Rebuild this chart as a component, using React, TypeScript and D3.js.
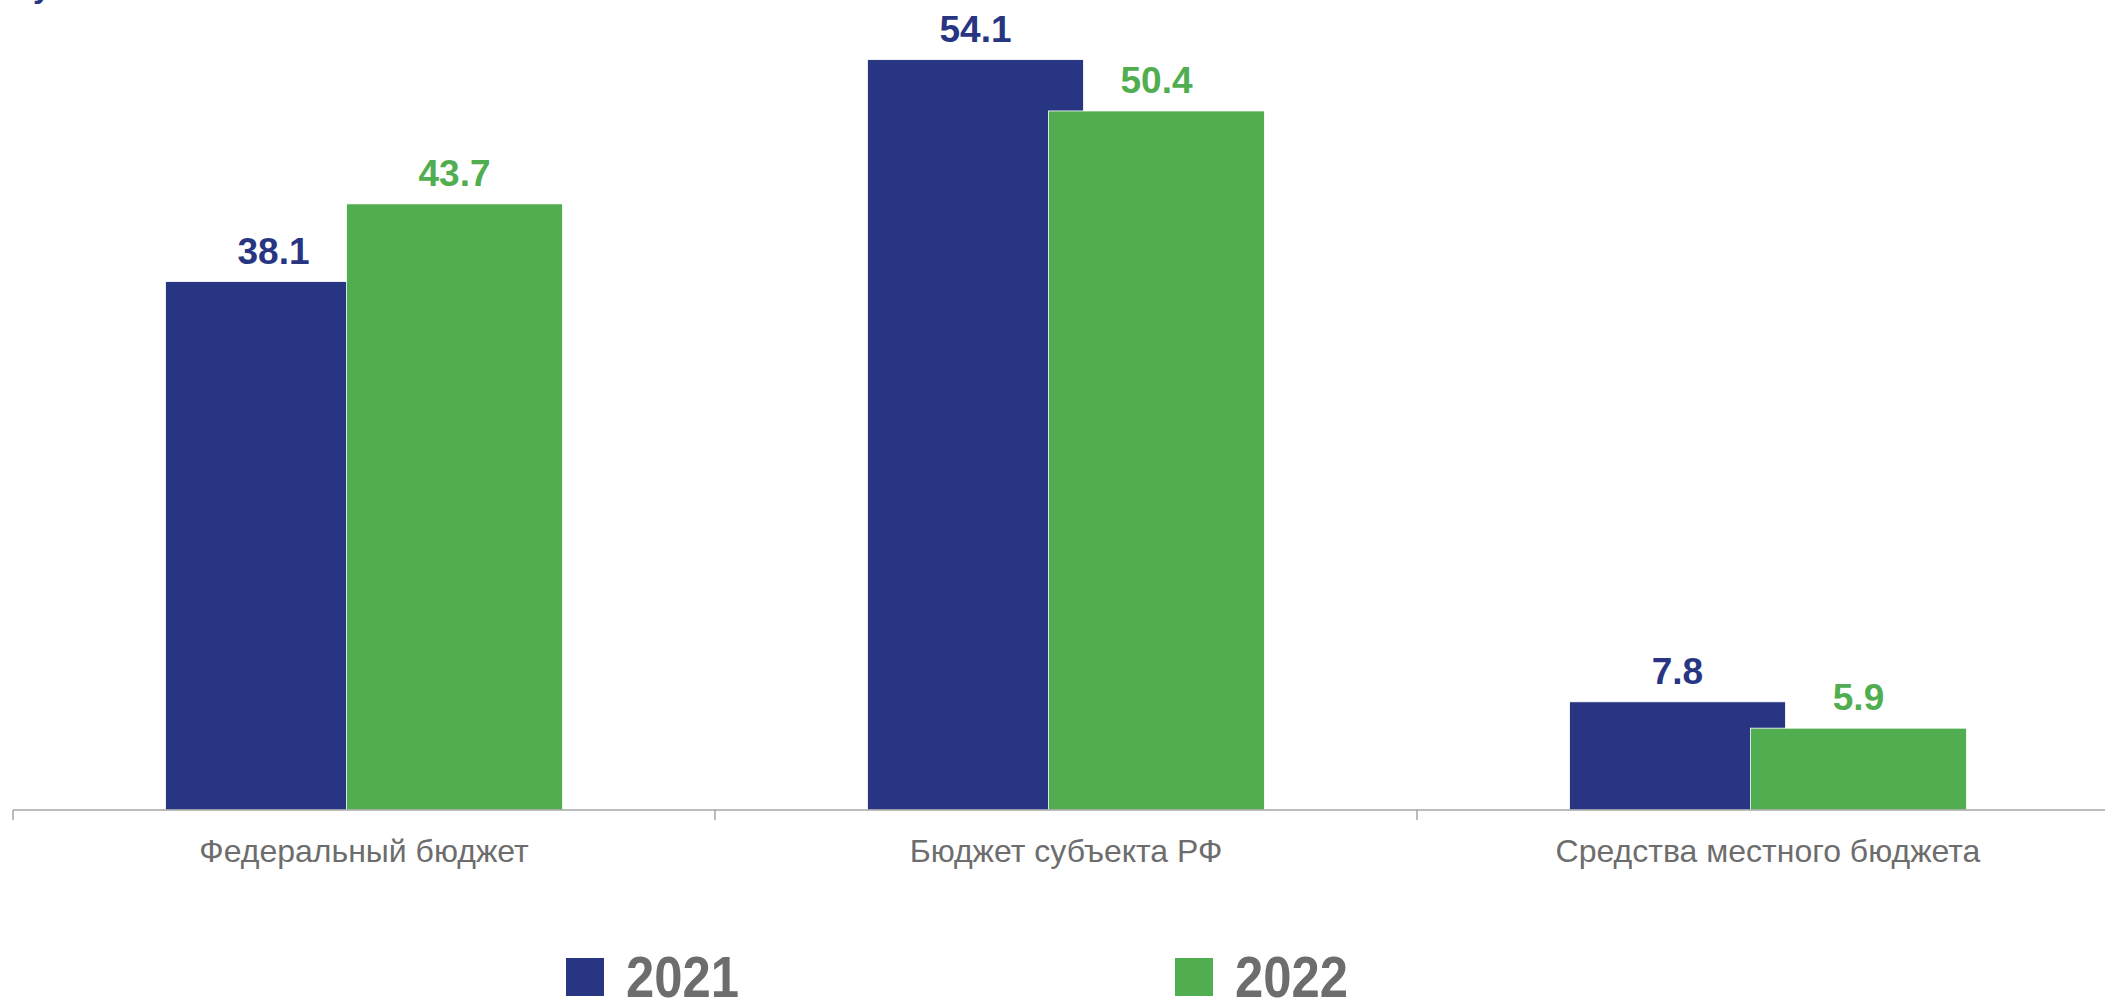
import * as d3 from 'd3'

const categories = ['Федеральный бюджет', 'Бюджет субъекта РФ', 'Средства местного бюджета']
const series = ['2021', '2022']
const values2021 = [38.1, 54.1, 7.8]
const values2022 = [43.7, 50.4, 5.9]
const colors = ['#283583', '#50ae50']

const W = 2105
const H = 999
const baseY = 810

export default function App() {
  const x = d3.scaleBand<string>().domain(categories).range([13, 13 + 702 * 3]).paddingInner(0).paddingOuter(0)
  const y = d3.scaleLinear().domain([0, 60]).range([baseY, baseY - 60 * 13.87])

  const band = x.bandwidth()
  const barW = band * 0.3077
  const step = barW * 0.838
  const groupW = barW + step

  const rows = [values2021, values2022]

  const boundaries = [...categories.map((c) => x(c) as number), (x(categories[categories.length - 1]) as number) + band]

  const legendX = [566, 1175]

  return (
    <svg
      width={W}
      height={H}
      style={{ position: 'absolute', left: 0, top: 0, display: 'block', background: '#fff' }}
      fontFamily="'Liberation Sans', Arial, sans-serif"
    >
      {/* cut-off title line at the very top */}
      <text x={33} y={-3} fontSize={32} fontWeight="bold" fill={colors[0]}>
        у
      </text>

      {rows.map((vals, si) =>
        vals.map((v, ci) => {
          const cx = (x(categories[ci]) as number) + band / 2
          const bx = cx - groupW / 2 + si * step
          return (
            <rect
              key={`b${si}-${ci}`}
              x={bx}
              y={y(v)}
              width={barW}
              height={baseY - y(v)}
              fill={colors[si]}
              stroke="#ffffff"
              strokeWidth={0.8}
            />
          )
        })
      )}

      {rows.map((vals, si) =>
        vals.map((v, ci) => {
          const cx = (x(categories[ci]) as number) + band / 2
          const bx = cx - groupW / 2 + si * step
          return (
            <text
              key={`l${si}-${ci}`}
              x={bx + barW / 2}
              y={y(v) - 18}
              textAnchor="middle"
              fontSize={37}
              fontWeight="bold"
              fill={colors[si]}
            >
              {v.toFixed(1)}
            </text>
          )
        })
      )}

      {/* category axis */}
      <line x1={13} x2={W} y1={baseY} y2={baseY} stroke="#a6a6a6" strokeWidth={1.5} />
      {boundaries.map((bx, i) => (
        <line key={`t${i}`} x1={bx} x2={bx} y1={baseY} y2={baseY + 10} stroke="#a6a6a6" strokeWidth={1.5} />
      ))}
      {categories.map((c) => (
        <text
          key={c}
          x={(x(c) as number) + band / 2}
          y={862}
          textAnchor="middle"
          fontSize={32}
          fill="#6d6d6d"
        >
          {c}
        </text>
      ))}

      {/* legend */}
      {series.map((s, i) => (
        <g key={s} transform={`translate(${legendX[i]},0)`}>
          <rect x={0} y={958} width={38} height={38} fill={colors[i]} />
          <text
            x={60}
            y={997}
            fontSize={58}
            fontWeight="bold"
            fill="#6d6d6d"
            textLength={113}
            lengthAdjust="spacingAndGlyphs"
          >
            {s}
          </text>
        </g>
      ))}
    </svg>
  )
}
